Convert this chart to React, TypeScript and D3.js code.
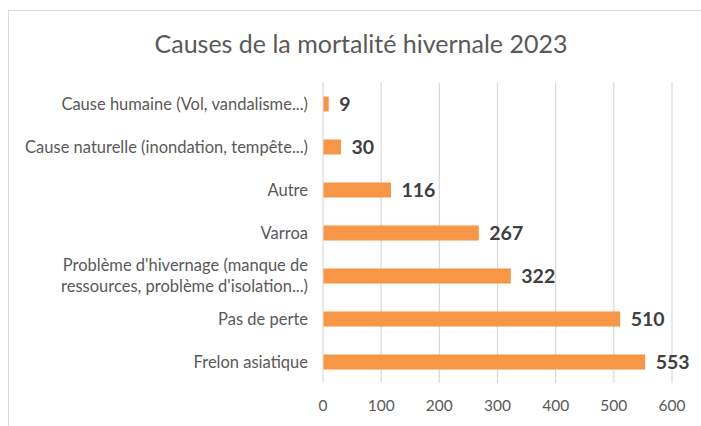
import React from "react";
import * as d3 from "d3";

const categories = [
  "Cause humaine (Vol, vandalisme...)",
  "Cause naturelle (inondation, tempête...)",
  "Autre",
  "Varroa",
  "Problème d'hivernage (manque de|ressources, problème d'isolation...)",
  "Pas de perte",
  "Frelon asiatique",
];
const values = [9, 30, 116, 267, 322, 510, 553];
const ticks = [0, 100, 200, 300, 400, 500, 600];
const title = "Causes de la mortalité hivernale 2023";

const W = 701, H = 426;
const FONT = "Lato, 'Open Sans', sans-serif";

export default function App() {
  const x = d3.scaleLinear().domain([0, 600]).range([323, 672]);
  const y = d3.scaleBand().domain(categories).range([82.5, 383.5]).paddingInner(0.65).paddingOuter(0.325);
  return (
    <svg width={W} height={H} style={{ position: "absolute", left: 0, top: 0 }}>
      <rect x={0} y={0} width={W} height={H} fill="#fff" />
      <rect x={8.5} y={10.5} width={W} height={H} fill="#fff" stroke="#d9d9d9" strokeWidth={1} />
      <text x={361} y={53} textAnchor="middle" fontFamily={FONT} fontSize={25} fill="#595959">{title}</text>
      {ticks.map((t) => (
        <g key={t}>
          <line x1={x(t)} x2={x(t)} y1={82.5} y2={383} stroke="#d9d9d9" strokeWidth={1.2} />
          <text x={x(t)} y={411} textAnchor="middle" fontFamily={FONT} fontSize={15.5} fill="#595959">{t}</text>
        </g>
      ))}
      {categories.map((c, i) => {
        const cy = (y(c) as number) + y.bandwidth() / 2;
        const lines = c.split("|");
        return (
          <g key={c}>
            <rect x={x(0) + 0.5} y={y(c)} width={x(values[i]) - x(0)} height={y.bandwidth()} fill="#F79646" />
            <text x={x(values[i]) + 11} y={cy + 7} fontFamily={FONT} fontSize={19.5} fontWeight="bold" fill="#404040">{values[i]}</text>
            {lines.map((l, j) => (
              <text key={j} x={308} y={cy + 5.5 + (j - (lines.length - 1) / 2) * 21} textAnchor="end" fontFamily={FONT} fontSize={16.5} fill="#595959">{l}</text>
            ))}
          </g>
        );
      })}
    </svg>
  );
}
